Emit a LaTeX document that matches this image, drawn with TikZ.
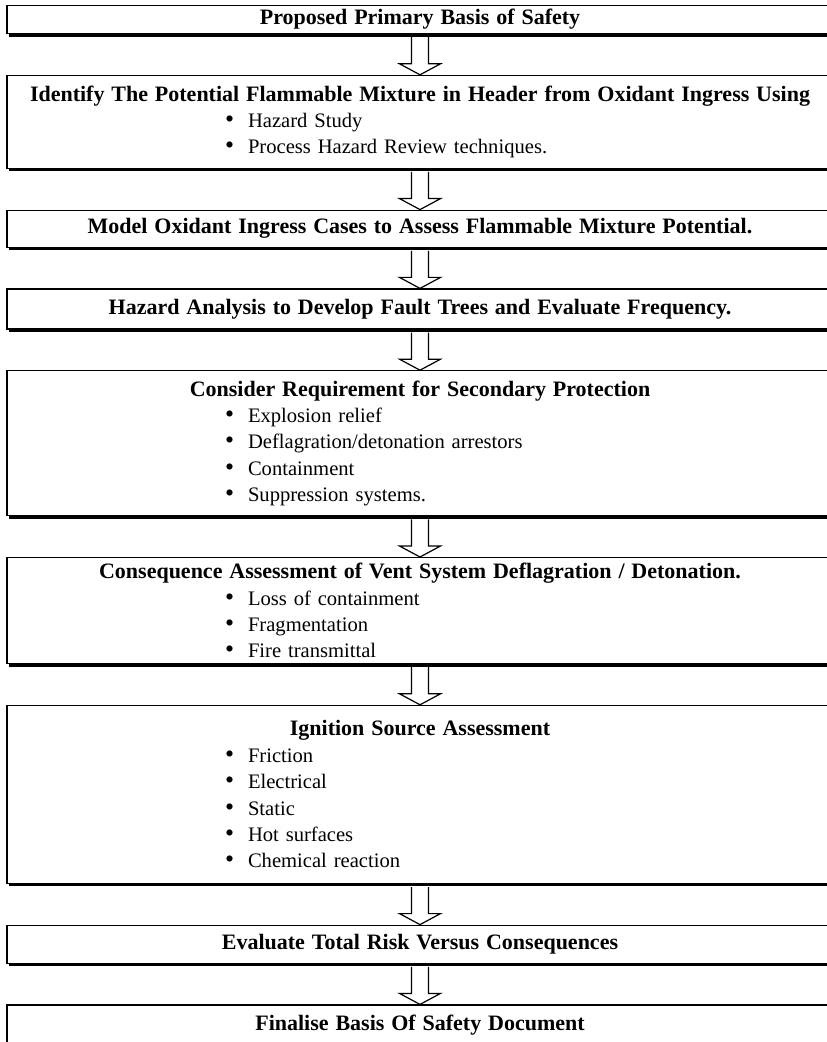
\documentclass[tikz,border=0pt]{standalone}
\usepackage{fontspec}
\setmainfont{Liberation Serif}
\usetikzlibrary{positioning, calc, shadows}

\newcommand{\stagetitle}[1]{{\fontsize{11}{13.2}\selectfont\bfseries #1}}
\newcommand{\bitem}[1]{\makebox[\hsize][l]{\hspace*{109pt}\makebox[11.5pt][l]{\scalebox{1.25}{\textbullet}}#1}}
\newcommand{\flowarrow}[2]{%
  \draw[arrowline] ($(#1.south)+(-4.25pt,-1.5pt)$) -- ($(#2.north)+(-4.25pt,5.5pt)$)
    -- ($(#2.north)+(-10.25pt,5.5pt)$) -- (#2.north) -- ($(#2.north)+(10.25pt,5.5pt)$)
    -- ($(#2.north)+(4.25pt,5.5pt)$) -- ($(#1.south)+(4.25pt,-1.5pt)$);}

\begin{document}
\begin{tikzpicture}[
    stage/.style={draw, line width=0.6pt, fill=white, text width=413pt, inner xsep=0pt, inner ysep=0pt,
      align=center, font=\fontsize{10.3}{13.2}\selectfont,
      drop shadow={shadow xshift=1.2pt, shadow yshift=-1.5pt, fill=black, opacity=1}},
    arrowline/.style={line width=0.6pt, fill=white, draw, line join=miter},
    node distance=20.3pt
  ]
  \useasboundingbox (0,0) rectangle (413pt,-521pt);

  \node[stage, minimum height=14pt, anchor=north] (basis) at (210pt,-2.5pt) {\stagetitle{Proposed Primary Basis of Safety}};
  \node[stage, minimum height=46.5pt, below=of basis] (identify) {\stagetitle{Identify The Potential Flammable Mixture in Header from Oxidant Ingress Using}\\
    \bitem{Hazard Study}\\ \bitem{Process Hazard Review techniques.}};
  \node[stage, minimum height=18.5pt, below=of identify] (model) {\stagetitle{Model Oxidant Ingress Cases to Assess Flammable Mixture Potential.}};
  \node[stage, minimum height=20pt, below=of model] (hazard) {\stagetitle{Hazard Analysis to Develop Fault Trees and Evaluate Frequency.}};
  \node[stage, minimum height=72.5pt, below=of hazard] (secondary) {\stagetitle{Consider Requirement for Secondary Protection}\\
    \bitem{Explosion relief}\\ \bitem{Deflagration/detonation arrestors}\\ \bitem{Containment}\\ \bitem{Suppression systems.}};
  \node[stage, minimum height=53pt, below=of secondary] (consequence) {\stagetitle{Consequence Assessment of Vent System Deflagration / Detonation.}\\
    \bitem{Loss of containment}\\ \bitem{Fragmentation}\\ \bitem{Fire transmittal}};
  \node[stage, minimum height=89pt, below=of consequence] (ignition) {\stagetitle{Ignition Source Assessment}\\
    \bitem{Friction}\\ \bitem{Electrical}\\ \bitem{Static}\\ \bitem{Hot surfaces}\\ \bitem{Chemical reaction}};
  \node[stage, minimum height=19pt, below=of ignition] (risk) {\stagetitle{Evaluate Total Risk Versus Consequences}};
  \node[stage, minimum height=20pt, below=of risk] (final) {\stagetitle{Finalise Basis Of Safety Document}};

  \flowarrow{basis}{identify}
  \flowarrow{identify}{model}
  \flowarrow{model}{hazard}
  \flowarrow{hazard}{secondary}
  \flowarrow{secondary}{consequence}
  \flowarrow{consequence}{ignition}
  \flowarrow{ignition}{risk}
  \flowarrow{risk}{final}
\end{tikzpicture}
\end{document}
